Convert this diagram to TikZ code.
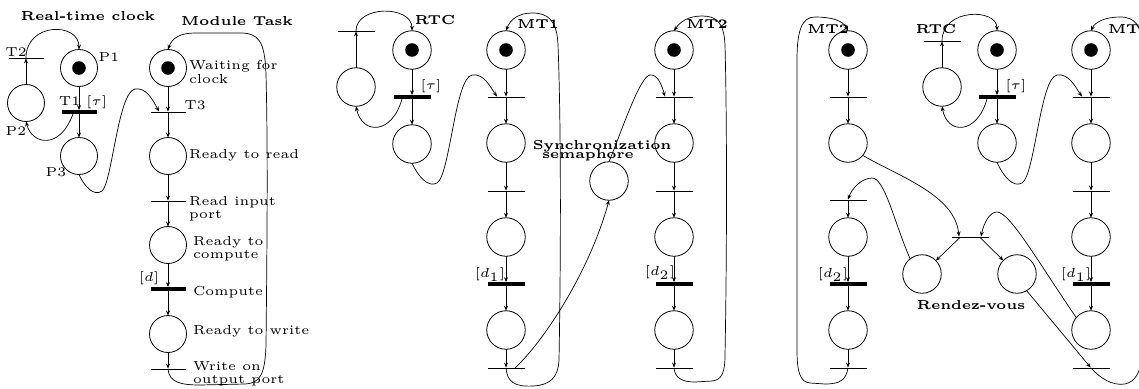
\documentclass[tikz,border=0pt]{standalone}
\usetikzlibrary{arrows.meta}
\begin{document}
\begin{tikzpicture}[
  x=1pt, y=-1pt,
  every node/.style={inner sep=0pt, outer sep=0pt},
  place/.style={circle, draw, line width=0.8pt, minimum size=38.5pt},
  splace/.style={place, minimum size=37pt},
  trans/.style={rectangle, fill=black, minimum width=37pt, minimum height=0.9pt},
  strans/.style={trans, minimum width=35pt},
  ttrans/.style={trans, minimum height=3.8pt},
  sttrans/.style={strans, minimum height=3.8pt},
  arr/.style={-{Stealth[length=5pt,width=4pt,inset=1.8pt]}, line width=0.7pt},
  lbl/.style={font=\fontsize{5}{5.1}\selectfont, scale=2.6, align=left},
  blbl/.style={lbl, font=\fontsize{5}{5.1}\selectfont\bfseries},
  tok/.style={radius=6.8pt}
]
\useasboundingbox (0,0) rectangle (1139,388);
\clip (0,0) rectangle (1139,388);

% ================= Real-time clock and module task =================
\node[splace] (p1) at (79,68) {};
\node[splace] (p2) at (26,103) {};
\node[splace] (p3) at (79,156) {};
\node[strans] (t2) at (26,58) {};
\node[sttrans] (t1) at (79,112) {};
\node[splace] (m1) at (168,68) {};
\node[splace] (m2) at (168,156) {};
\node[splace] (m3) at (168,245) {};
\node[splace] (m4) at (168,334) {};
\node[strans] (t3) at (168,112) {};
\node[strans] (t4) at (168,201) {};
\node[sttrans] (t5) at (168,289) {};
\node[strans] (t6) at (168,369) {};
\fill (p1) circle[tok];
\fill (m1) circle[tok];

\node[blbl] (ttlrtc) at (88,16) {Real-time clock};
\node[blbl] (ttlmt) at (237,21) {Module Task};
\node[lbl] (lt2) at (16,52) {T2};
\node[lbl] (lp1) at (109,57) {P1};
\node[lbl] (lp2) at (16,131) {P2};
\node[lbl] (lt1) at (83,102) {T1 [$\tau$]};
\node[lbl] (lp3) at (56,172) {P3};
\node[lbl] (lt3) at (195,105) {T3};
\node[lbl, anchor=west] (lm1) at (189,72) {Waiting for\\clock};
\node[lbl, anchor=west] (lm2) at (189,155) {Ready to read};
\node[lbl, anchor=west] (lt4) at (189,209) {Read input\\port};
\node[lbl, anchor=west] (lm3) at (193,249) {Ready to\\compute};
\node[lbl, anchor=west] (lt5) at (193,292) {Compute};
\node[lbl] (ld) at (149,278) {[$d$]};
\node[lbl, anchor=west] (lm4) at (193,331) {Ready to write};
\node[lbl, anchor=west] (lt6) at (193,374) {Write on\\output port};

\draw[arr] (p2) -- (t2);
\draw[arr] (t2.center) .. controls (26,22) and (79,22) .. (p1.north);
\draw[arr] (p1) -- (t1);
\draw[arr] (t1) -- (p3);
\draw[arr] ([xshift=-6pt]t1.south) .. controls (60,150) and (32,145) .. (p2.south);
\draw[arr] (p3.south) .. controls (84,186) and (94,197) .. (102,191)
  .. controls (112,183) and (118,92) .. (135,89)
  .. controls (146,87) and (153,100) .. ([xshift=-9pt]t3.north);
\draw[arr] (m1) -- (t3);
\draw[arr] (t3) -- (m2);
\draw[arr] (m2) -- (t4);
\draw[arr] (t4) -- (m3);
\draw[arr] (m3) -- (t5);
\draw[arr] (t5) -- (m4);
\draw[arr] (m4) -- (t6);
\draw[arr] (t6.center) .. controls (169,382) and (180,385) .. (200,385) -- (245,384)
  .. controls (260,383) and (265,375) .. (266,345)
  .. controls (267,250) and (268,150) .. (266,75)
  .. controls (265,40) and (258,33) .. (240,33) -- (195,33)
  .. controls (180,33) and (172,38) .. (m1.north);

% ================= Synchronization semaphore =================
\node[place] (alp) at (356,87) {};
\node[trans] (at2) at (356,31) {};
\node[place] (ap1) at (412,50) {};
\node[ttrans] (at1) at (412,97) {};
\node[place] (ap3) at (412,144) {};
\fill (ap1) circle[tok];

\node[place] (a1p) at (506,50) {};
\node[place] (a2p) at (506,143) {};
\node[place] (a3p) at (506,237) {};
\node[place] (a4p) at (506,330) {};
\node[trans] (a1) at (506,97) {};
\node[trans] (a2) at (506,191) {};
\node[ttrans] (a3) at (506,284) {};
\node[trans] (a4) at (506,368) {};
\fill (a1p) circle[tok];

\node[place] (sem) at (609,181) {};

\node[place] (b1p) at (674,50) {};
\node[place] (b2p) at (674,143) {};
\node[place] (b3p) at (674,237) {};
\node[place] (b4p) at (674,330) {};
\node[trans] (b1) at (674,97) {};
\node[trans] (b2) at (674,191) {};
\node[ttrans] (b3) at (674,284) {};
\node[trans] (b4) at (674,368) {};
\fill (b1p) circle[tok];

\node[blbl] (lrtca) at (435,20) {RTC};
\node[lbl] (ltaua) at (431,86) {[$\tau$]};
\node[blbl] (lmt1a) at (538,24) {MT1};
\node[lbl] (ld1a) at (490,275) {[$d_1$]};
\node[blbl] (lmt2a) at (707,24) {MT2};
\node[lbl] (ld2a) at (660,273) {[$d_2$]};
\node[blbl] (lsync) at (602,146) {Synchronization};
\node[blbl] (lsema) at (588,155) {semaphore};

\draw[arr] (alp) -- (at2);
\draw[arr] (at2.center) .. controls (356,5) and (412,5) .. (ap1.north);
\draw[arr] (ap1) -- (at1);
\draw[arr] (at1) -- (ap3);
\draw[arr] ([xshift=-10pt]at1.south) .. controls (392,135) and (362,135) .. (alp.south);
\draw[arr] (ap3.south) .. controls (418,176) and (428,188) .. (437,183)
  .. controls (450,175) and (455,78) .. (472,75)
  .. controls (484,73) and (491,88) .. ([xshift=-9pt]a1.north);
\draw[arr] (a1p) -- (a1);
\draw[arr] (a1) -- (a2p);
\draw[arr] (a2p) -- (a2);
\draw[arr] (a2) -- (a3p);
\draw[arr] (a3p) -- (a3);
\draw[arr] (a3) -- (a4p);
\draw[arr] (a4p) -- (a4);
\draw[arr] (a4.center) .. controls (507,382) and (515,387) .. (533,386)
  .. controls (550,385) and (558,378) .. (559,360)
  .. controls (561,250) and (561,120) .. (558,45)
  .. controls (557,20) and (548,13) .. (532,13)
  .. controls (518,13) and (510,20) .. (a1p.north);
\draw[arr] ([xshift=9pt]a4.center) .. controls (545,340) and (590,270) .. (sem.south);
\draw[arr] (sem.north) .. controls (622,130) and (640,76) .. (650,75)
  .. controls (658,74) and (662,86) .. ([xshift=-9pt]b1.north);
\draw[arr] (b1p) -- (b1);
\draw[arr] (b1) -- (b2p);
\draw[arr] (b2p) -- (b2);
\draw[arr] (b2) -- (b3p);
\draw[arr] (b3p) -- (b3);
\draw[arr] (b3) -- (b4p);
\draw[arr] (b4p) -- (b4);
\draw[arr] (b4.center) .. controls (675,378) and (682,382) .. (695,382) -- (712,381)
  .. controls (722,380) and (725,372) .. (725,355)
  .. controls (727,250) and (727,120) .. (725,45)
  .. controls (724,22) and (716,16) .. (702,16)
  .. controls (688,16) and (680,22) .. (b1p.north);

% ================= Rendez-vous =================
\node[place] (c1p) at (848,50) {};
\node[place] (c2p) at (848,143) {};
\node[place] (c3p) at (848,237) {};
\node[place] (c4p) at (848,330) {};
\node[trans] (c1) at (848,97) {};
\node[trans] (c2) at (848,200) {};
\node[ttrans] (c3) at (848,284) {};
\node[trans] (c4) at (848,368) {};
\fill (c1p) circle[tok];

\node[place] (dlp) at (942,87) {};
\node[trans] (dt2) at (942,41) {};
\node[place] (dp1) at (997,50) {};
\node[ttrans] (dt1) at (997,97) {};
\node[place] (dp3) at (997,143) {};
\fill (dp1) circle[tok];

\node[place] (e1p) at (1091,50) {};
\node[place] (e2p) at (1091,143) {};
\node[place] (e3p) at (1091,237) {};
\node[place] (e4p) at (1091,330) {};
\node[trans] (e1) at (1091,97) {};
\node[trans] (e2) at (1091,191) {};
\node[ttrans] (e3) at (1091,284) {};
\node[trans] (e4) at (1091,368) {};
\fill (e1p) circle[tok];

\node[trans] (rvt) at (970,237) {};
\node[place] (rvl) at (922,274) {};
\node[place] (rvr) at (1017,274) {};

\node[blbl] (lmt2b) at (828,29) {MT2};
\node[blbl] (lrtcb) at (936,29) {RTC};
\node[lbl] (ltaub) at (1016,86) {[$\tau$]};
\node[blbl, anchor=west] (lmt1b) at (1108,29) {MT1};
\node[lbl] (ld2b) at (833,275) {[$d_2$]};
\node[lbl] (ld1b) at (1076,275) {[$d_1$]};
\node[blbl] (lrv) at (971,305) {Rendez-vous};

\draw[arr] (c1p) -- (c1);
\draw[arr] (c1) -- (c2p);
\draw[arr] (c2) -- (c3p);
\draw[arr] (c3p) -- (c3);
\draw[arr] (c3) -- (c4p);
\draw[arr] (c4p) -- (c4);
\draw[arr] (c4.center) .. controls (846,380) and (840,384) .. (825,384) -- (810,383)
  .. controls (800,382) and (797,372) .. (797,350) -- (797,60)
  .. controls (797,30) and (802,17) .. (815,17)
  .. controls (830,17) and (843,20) .. (c1p.north);

\draw[arr] (dlp) -- (dt2);
\draw[arr] (dt2.center) .. controls (942,8) and (997,8) .. (dp1.north);
\draw[arr] (dp1) -- (dt1);
\draw[arr] (dt1) -- (dp3);
\draw[arr] ([xshift=-10pt]dt1.south) .. controls (977,135) and (947,135) .. (dlp.south);
\draw[arr] (dp3.south) .. controls (1003,176) and (1013,188) .. (1022,183)
  .. controls (1035,175) and (1040,78) .. (1057,75)
  .. controls (1069,73) and (1076,88) .. ([xshift=-9pt]e1.north);

\draw[arr] (e1p) -- (e1);
\draw[arr] (e1) -- (e2p);
\draw[arr] (e2p) -- (e2);
\draw[arr] (e2) -- (e3p);
\draw[arr] (e3p) -- (e3);
\draw[arr] (e3) -- (e4p);
\draw[arr] (e4.center) .. controls (1100,378) and (1112,386) .. (1125,384)
  .. controls (1135,382) and (1141,372) .. (1142,355) -- (1142,50)
  .. controls (1142,25) and (1135,17) .. (1120,17)
  .. controls (1105,17) and (1095,22) .. (e1p.north);

\draw[arr] (c2p.-40) .. controls (900,177) and (955,195) .. ([xshift=-11pt]rvt.north);
\draw[arr] (e4p.140) .. controls (1040,265) and (1010,212) .. (997,212)
  .. controls (990,212) and (984,222) .. ([xshift=11pt]rvt.north);
\draw[arr] ([xshift=-10pt]rvt.south) -- (rvl);
\draw[arr] ([xshift=10pt]rvt.south) -- (rvr);
\draw[arr] (rvl.128) .. controls (895,225) and (885,178) .. (872,178)
  .. controls (862,178) and (852,188) .. (c2.north);
\draw[arr] (rvr.-60) -- (e4);
\end{tikzpicture}
\end{document}
